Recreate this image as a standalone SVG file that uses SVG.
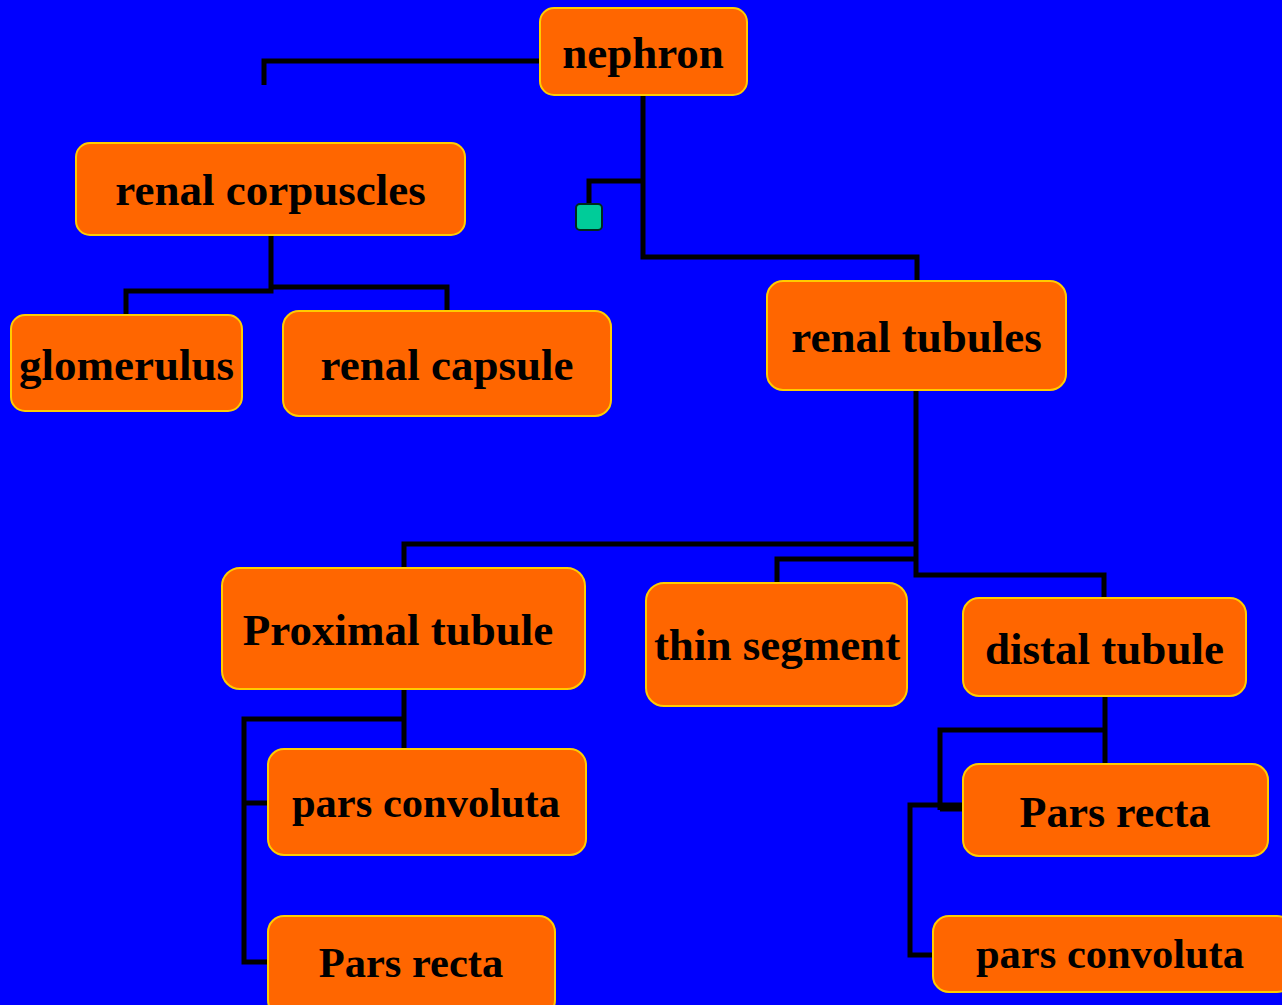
<svg xmlns="http://www.w3.org/2000/svg" width="1282" height="1005" viewBox="0 0 1282 1005">
  <style>
    .box { fill: #FF6600; stroke: #FFCC00; stroke-width: 2; }
    .lbl { font-family: "Liberation Serif", "Times New Roman", serif; font-weight: bold; font-size: 45px; fill: #000; text-anchor: middle; }
    .sm { font-size: 42.5px; }
    .wire { fill: none; stroke: #000; stroke-width: 5; stroke-linejoin: miter; stroke-linecap: butt; }
  </style>
  <rect x="0" y="0" width="1282" height="1005" fill="#0000FF"/>

  <!-- connectors -->
  <g id="connectors">
    <path class="wire" d="M540,61 H264 V85"/>
    <path class="wire" d="M643,95 V257 H917 V281"/>
    <path class="wire" d="M643,181 H589 V204"/>
    <path class="wire" d="M271,235 V291 H126 V315"/>
    <path class="wire" d="M271,287 H447 V311"/>
    <path class="wire" d="M916,390 V575 H1104 V598"/>
    <path class="wire" d="M916,544 H404 V568"/>
    <path class="wire" d="M916,559 H777 V583"/>
    <path class="wire" d="M404,689 V749"/>
    <path class="wire" d="M404,719 H244 V962 H268"/>
    <path class="wire" d="M244,803 H268"/>
    <path class="wire" d="M1105,696 V764"/>
    <path class="wire" d="M1105,730 H940 V810"/>
    <path class="wire" d="M940,807 H963" style="stroke-width:9"/>
    <path class="wire" d="M940,805 H910 V955 H933"/>
  </g>

  <!-- nodes -->
  <g id="nephron">
    <rect class="box" x="540" y="8" width="207" height="87" rx="14"/>
    <text class="lbl" x="643" y="68">nephron</text>
  </g>
  <g id="junction">
    <rect x="576" y="204" width="26" height="26" rx="4" fill="#00CC99" stroke="#002a1e" stroke-width="2"/>
  </g>
  <g id="renal-corpuscles">
    <rect class="box" x="76" y="143" width="389" height="92" rx="14"/>
    <text class="lbl" x="270.5" y="205">renal corpuscles</text>
  </g>
  <g id="glomerulus">
    <rect class="box" x="11" y="315" width="231" height="96" rx="14"/>
    <text class="lbl" x="126.5" y="380">glomerulus</text>
  </g>
  <g id="renal-capsule">
    <rect class="box" x="283" y="311" width="328" height="105" rx="16"/>
    <text class="lbl" x="447" y="380">renal capsule</text>
  </g>
  <g id="renal-tubules">
    <rect class="box" x="767" y="281" width="299" height="109" rx="16"/>
    <text class="lbl" x="916.5" y="352">renal tubules</text>
  </g>
  <g id="proximal-tubule">
    <rect class="box" x="222" y="568" width="363" height="121" rx="18"/>
    <text class="lbl" x="398" y="645">Proximal tubule</text>
  </g>
  <g id="thin-segment">
    <rect class="box" x="646" y="583" width="261" height="123" rx="18"/>
    <text class="lbl" x="777" y="660">thin segment</text>
  </g>
  <g id="distal-tubule">
    <rect class="box" x="963" y="598" width="283" height="98" rx="16"/>
    <text class="lbl" x="1104.5" y="664">distal tubule</text>
  </g>
  <g id="pars-convoluta-proximal">
    <rect class="box" x="268" y="749" width="318" height="106" rx="16"/>
    <text class="lbl sm" x="426" y="817">pars convoluta</text>
  </g>
  <g id="pars-recta-proximal">
    <rect class="box" x="268" y="916" width="287" height="100" rx="16"/>
    <text class="lbl sm" x="411" y="977">Pars recta</text>
  </g>
  <g id="pars-recta-distal">
    <rect class="box" x="963" y="764" width="305" height="92" rx="16"/>
    <text class="lbl" x="1115" y="827" style="font-size:44px">Pars recta</text>
  </g>
  <g id="pars-convoluta-distal">
    <rect class="box" x="933" y="916" width="360" height="76" rx="16"/>
    <text class="lbl sm" x="1110" y="968">pars convoluta</text>
  </g>
</svg>
